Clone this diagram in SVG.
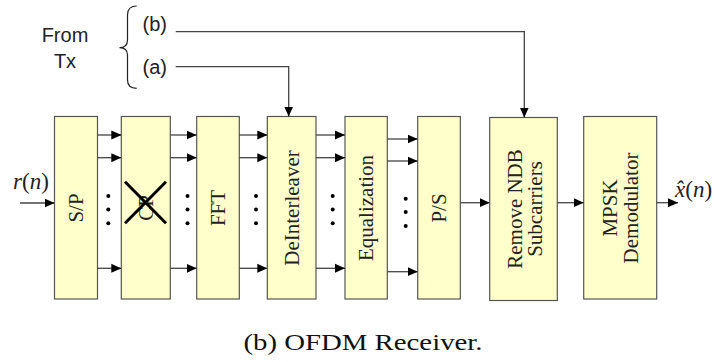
<svg xmlns="http://www.w3.org/2000/svg" width="714" height="362" viewBox="0 0 714 362">
<defs>
<marker id="ah" viewBox="0 0 10 10" refX="10" refY="5" markerWidth="10" markerHeight="10" orient="auto" markerUnits="userSpaceOnUse"><path d="M0,0.5 L10,5 L0,9.5 z" fill="#000"/></marker>
<style>
.box{fill:#FFFFCC;stroke:#555;stroke-width:1.2}
.lbl{font-family:"Liberation Serif","Times New Roman",serif;font-size:21px;fill:#222;text-anchor:middle}
.sans{font-family:"Liberation Sans",Arial,sans-serif;font-size:20px;fill:#222}
.con{fill:none;stroke:#444;stroke-width:1.3}
.dot{fill:#000}
.math{font-family:"Liberation Serif","Times New Roman",serif;font-size:23px;fill:#222}
</style>
</defs>
<rect width="714" height="362" fill="#fff"/>

<g id="from-tx">
<text class="sans" x="65" y="41.5" text-anchor="middle">From</text>
<text class="sans" x="65" y="68" text-anchor="middle">Tx</text>
<path d="M136.7,6 Q127.5,6 127.5,15 L127.5,40 Q127.5,47.7 119.5,47.7 Q127.5,47.7 127.5,55 L127.5,80 Q127.5,88.3 136.7,88.3" fill="none" stroke="#222" stroke-width="1.2"/>
<text class="sans" x="142.5" y="31">(b)</text>
<text class="sans" x="142.5" y="73.5">(a)</text>
</g>

<g id="sp"><rect class="box" x="54.5" y="116.5" width="43" height="182.5"/>
<text class="lbl" transform="translate(76,208) rotate(-90)" y="7">S/P</text></g>

<g id="cp"><rect class="box" x="121.3" y="116.5" width="49" height="182.5"/>
<text class="lbl" transform="translate(145.8,208) rotate(-90)" y="7">CP</text>
<path d="M125,181.7 L166,223.3 M166,181.7 L125,223.3" stroke="#000" stroke-width="3" fill="none"/></g>

<g id="fft"><rect class="box" x="196.7" y="116.5" width="42.6" height="182.5"/>
<text class="lbl" transform="translate(218,208) rotate(-90)" y="7">FFT</text></g>

<g id="deinterleaver"><rect class="box" x="267.3" y="116.5" width="48.7" height="182.5"/>
<text class="lbl" transform="translate(291.7,208) rotate(-90)" y="7">DeInterleaver</text></g>

<g id="equalization"><rect class="box" x="345" y="116.5" width="42.3" height="182.5"/>
<text class="lbl" transform="translate(366.2,208) rotate(-90)" y="7">Equalization</text></g>

<g id="ps"><rect class="box" x="417.7" y="116.5" width="42.6" height="182.5"/>
<text class="lbl" transform="translate(439,208) rotate(-90)" y="7">P/S</text></g>

<g id="remove-ndb"><rect class="box" x="489.7" y="117.5" width="67.6" height="183"/>
<text class="lbl" transform="translate(523.5,209) rotate(-90)"><tspan x="0" y="-2">Remove NDB</tspan><tspan x="0" y="18">Subcarriers</tspan></text></g>

<g id="mpsk"><rect class="box" x="583.7" y="116.5" width="73" height="182.5"/>
<text class="lbl" transform="translate(620.2,208) rotate(-90)"><tspan x="0" y="-3">MPSK</tspan><tspan x="0" y="18">Demodulator</tspan></text></g>

<g id="io-labels">
<text class="math" x="13" y="189"><tspan font-style="italic">r</tspan>(<tspan font-style="italic">n</tspan>)</text>
<text class="math" x="675" y="196.5"><tspan font-style="italic">x̂</tspan>(<tspan font-style="italic">n</tspan>)</text>
</g>

<g id="connectors">
<path class="con" d="M20,203 H54.5" marker-end="url(#ah)"/>
<path class="con" d="M97.3,135 H121.3" marker-end="url(#ah)"/>
<path class="con" d="M97.3,157.7 H121.3" marker-end="url(#ah)"/>
<path class="con" d="M97.3,268.3 H121.3" marker-end="url(#ah)"/>
<path class="con" d="M170.3,135 H196.7" marker-end="url(#ah)"/>
<path class="con" d="M170.3,157.7 H196.7" marker-end="url(#ah)"/>
<path class="con" d="M170.3,268.3 H196.7" marker-end="url(#ah)"/>
<path class="con" d="M239.3,135 H267.3" marker-end="url(#ah)"/>
<path class="con" d="M239.3,157.7 H267.3" marker-end="url(#ah)"/>
<path class="con" d="M239.3,268.3 H267.3" marker-end="url(#ah)"/>
<path class="con" d="M316,135 H345" marker-end="url(#ah)"/>
<path class="con" d="M316,157.7 H345" marker-end="url(#ah)"/>
<path class="con" d="M316,268.3 H345" marker-end="url(#ah)"/>
<path class="con" d="M387.3,139 H417.7" marker-end="url(#ah)"/>
<path class="con" d="M387.3,161 H417.7" marker-end="url(#ah)"/>
<path class="con" d="M387.3,271.7 H417.7" marker-end="url(#ah)"/>
<path class="con" d="M460.3,202.7 H489.7" marker-end="url(#ah)"/>
<path class="con" d="M557.3,202.7 H583.7" marker-end="url(#ah)"/>
<path class="con" d="M656.7,202.7 H678" marker-end="url(#ah)"/>
<path class="con" d="M175.7,31.7 H524.3 V117.5" stroke="#111" marker-end="url(#ah)"/>
<path class="con" d="M175.7,66.7 H288.7 V116.5" stroke="#555" marker-end="url(#ah)"/>
<g class="dot">
<circle cx="108.3" cy="196" r="2"/><circle cx="108.3" cy="209.5" r="2"/><circle cx="108.3" cy="223.3" r="2"/>
<circle cx="187.5" cy="196" r="2"/><circle cx="187.5" cy="209.5" r="2"/><circle cx="187.5" cy="223.3" r="2"/>
<circle cx="256" cy="196" r="2"/><circle cx="256" cy="209.5" r="2"/><circle cx="256" cy="223.3" r="2"/>
<circle cx="332.7" cy="196" r="2"/><circle cx="332.7" cy="209.5" r="2"/><circle cx="332.7" cy="223.3" r="2"/>
<circle cx="405.7" cy="198.7" r="2"/><circle cx="405.7" cy="212" r="2"/><circle cx="405.7" cy="226" r="2"/>
</g>
</g>

<text x="243.5" y="350" font-family="'Liberation Serif','Times New Roman',serif" font-size="24" fill="#111" textLength="239" lengthAdjust="spacingAndGlyphs">(b) OFDM Receiver.</text>
</svg>
